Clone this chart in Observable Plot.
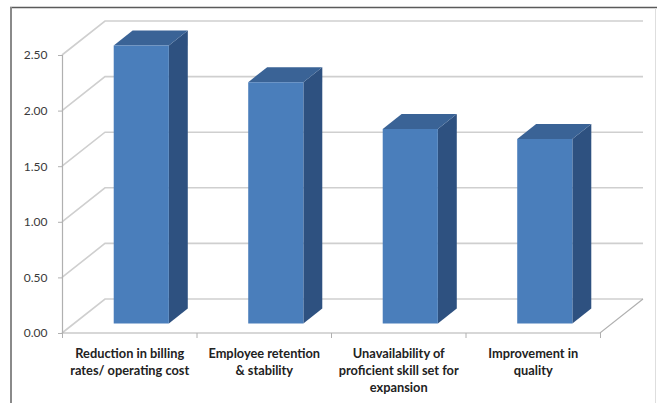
<!DOCTYPE html>
<html>
<head>
<meta charset="utf-8">
<script src="https://cdn.jsdelivr.net/npm/d3@7"></script>
<script src="https://cdn.jsdelivr.net/npm/@observablehq/plot@0.6"></script>
<style>
  html, body { margin: 0; padding: 0; background: #fff; }
  #chart svg { display: block; }
</style>
</head>
<body>
<div id="chart"></div>
<script>
// Mean scores per factor
const categories = [
  "Reduction in billing\nrates/ operating cost",
  "Employee retention\n& stability",
  "Unavailability of\nproficient skill set for\nexpansion",
  "Improvement in\nquality"
];
const values = [2.50, 2.17, 1.75, 1.66];
const yTicks = [0, 0.5, 1, 1.5, 2, 2.5];

// Oblique 3D look: depth of the floor in pixels, and where each column sits in it
const depth = {dx: 43, dy: -34};
const column = {width: 0.41, front: 0.28, back: 0.72};
const colors = {front: "#4a7ebb", top: "#3a6396", side: "#2e5180"};
const gridColor = "#cfcfcf";
const edgeColor = "#b0b0b0";

const project = (s, x, v, u) => [s.x(x) + u * depth.dx, s.y(v) + u * depth.dy];
const pts = (a) => a.map((p) => p.join(",")).join(" ");

// Side wall, back wall and floor outline
function walls(index, scales) {
  const g = d3.create("svg:g").attr("fill", "none");
  const n = categories.length;
  for (const t of yTicks) {
    g.append("polyline")
      .attr("points", pts([project(scales, 0, t, 0), project(scales, 0, t, 1), project(scales, n, t, 1)]))
      .attr("stroke", gridColor)
      .attr("stroke-width", 1.6);
  }
  g.append("polyline")
    .attr("points", pts([project(scales, 0, 0, 0), project(scales, n, 0, 0), project(scales, n, 0, 1)]))
    .attr("stroke", edgeColor)
    .attr("stroke-width", 1.2);
  return g.node();
}

// Columns: front, top and right-hand faces
function columns(index, scales) {
  const g = d3.create("svg:g").attr("stroke", "none");
  values.forEach((v, i) => {
    const xl = i + 0.5 - column.width / 2, xr = i + 0.5 + column.width / 2;
    const f = column.front, b = column.back;
    g.append("polygon").attr("fill", colors.side)
      .attr("points", pts([project(scales, xr, v, f), project(scales, xr, v, b), project(scales, xr, 0, b), project(scales, xr, 0, f)]));
    g.append("polygon").attr("fill", colors.top)
      .attr("points", pts([project(scales, xl, v, f), project(scales, xl, v, b), project(scales, xr, v, b), project(scales, xr, v, f)]));
    g.append("polygon").attr("fill", colors.front)
      .attr("points", pts([project(scales, xl, 0, f), project(scales, xl, v, f), project(scales, xr, v, f), project(scales, xr, 0, f)]));
  });
  return g.node();
}

// Chart area border
function border(index, scales, values, dim) {
  const g = d3.create("svg:g").attr("fill", "none");
  g.append("line").attr("x1", 10).attr("x2", dim.width).attr("y1", 7.5).attr("y2", 7.5)
    .attr("stroke", "#5a5a5a").attr("stroke-width", 1.5);
  g.append("line").attr("x1", 11).attr("x2", 11).attr("y1", 7).attr("y2", dim.height)
    .attr("stroke", "#8a8a8a").attr("stroke-width", 2);
  g.append("line").attr("x1", 655.5).attr("x2", 655.5).attr("y1", 8).attr("y2", dim.height)
    .attr("stroke", "#dedede").attr("stroke-width", 1);
  return g.node();
}

const chart = Plot.plot({
  width: 657,
  height: 403,
  marginLeft: 62,
  marginRight: 57,
  marginTop: 55,
  marginBottom: 70,
  style: {fontFamily: "Lato, 'Open Sans', sans-serif", background: "#fff"},
  x: {type: "linear", domain: [0, categories.length], axis: null},
  y: {domain: [0, 2.5], axis: null},
  marks: [
    border,
    walls,
    Plot.ruleX([0], {stroke: edgeColor, strokeWidth: 1.2}),
    columns,
    Plot.axisY({
      ticks: yTicks,
      tickFormat: d3.format(".2f"),
      tickSize: 4,
      tickPadding: 11,
      fontSize: 12,
      color: "#3a3a3a",
      stroke: edgeColor,
      label: null
    }),
    Plot.axisX({
      ticks: d3.range(categories.length + 1),
      tickFormat: () => "",
      tickSize: 5,
      stroke: edgeColor,
      label: null
    }),
    Plot.text(categories, {
      x: (d, i) => i + 0.5,
      y: 0,
      dy: 12,
      lineAnchor: "top",
      lineHeight: 1.35,
      fontSize: 12.8,
      fontWeight: "bold",
      fill: "#222222"
    })
  ]
});

document.getElementById("chart").append(chart);
</script>
</body>
</html>
